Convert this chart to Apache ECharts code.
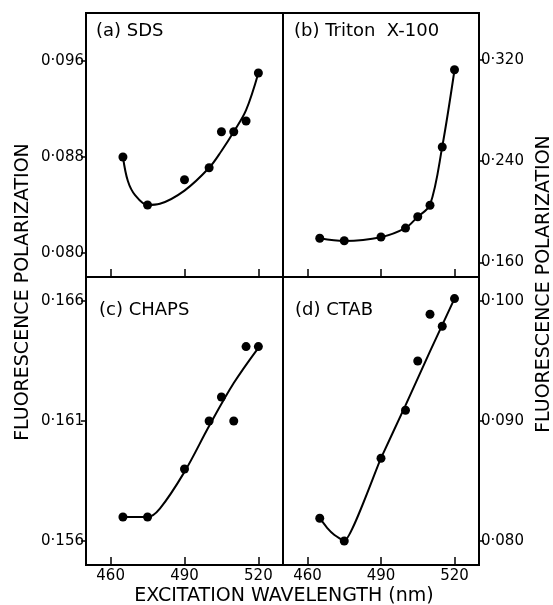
<!DOCTYPE html>
<html>
<head>
<meta charset="utf-8">
<script src="https://cdn.jsdelivr.net/npm/echarts@6/dist/echarts.min.js"></script>
<style>
  html, body { margin: 0; padding: 0; background: #fff; }
  #chart { width: 553px; height: 605px; }
</style>
</head>
<body>
<div id="chart"></div>
<script>
// measured points, excitation wavelength (nm)
const wavelengths = [465, 475, 490, 500, 505, 510, 515, 520]
const sdsPoints = [0.0880, 0.0840, 0.0861, 0.0871, 0.0901, 0.0901, 0.0910, 0.0950]
const tritonPoints = [0.179, 0.177, 0.180, 0.187, 0.196, 0.205, 0.251, 0.312]
const chapsPoints = [0.1570, 0.1570, 0.1590, 0.1610, 0.1620, 0.1610, 0.1641, 0.1641]
const ctabPoints = [0.0819, 0.0800, 0.0869, 0.0909, 0.0950, 0.0989, 0.0979, 0.1002]

// hand drawn fitted curves
const sdsCurveX = [465, 467, 470, 475, 480, 490, 500, 505, 510, 515, 520]
const sdsCurveY = [0.0880, 0.0860, 0.0848, 0.0840, 0.0841, 0.0852, 0.0871, 0.0885, 0.0901, 0.0919, 0.0950]
const tritonCurveX = [465, 475, 490, 500, 505, 510, 515, 520]
const tritonCurveY = [0.1790, 0.1769, 0.1798, 0.1871, 0.1960, 0.2053, 0.2513, 0.3118]
const chapsCurveX = [465, 475, 480, 490, 500, 510, 520]
const chapsCurveY = [0.1570, 0.1570, 0.15735, 0.15888, 0.16079, 0.16258, 0.16405]
const ctabCurveX = [465, 468, 471, 475, 490, 500, 510, 520]
const ctabCurveY = [0.0819, 0.0811, 0.0805, 0.0800, 0.0869, 0.0913, 0.0958, 0.1002]

// axis ticks
const xTicks = [460, 490, 520]
const sdsTicks = [0.080, 0.088, 0.096]
const tritonTicks = [0.160, 0.240, 0.320]
const chapsTicks = [0.156, 0.161, 0.166]
const ctabTicks = [0.080, 0.090, 0.100]

const FONT = 'DejaVu Sans'
const fmt = v => v.toFixed(3).replace('.', '·')
const pairs = (xs, ys) => xs.map((x, i) => [x, ys[i]])

function xAxis (idx, showLabel) {
  return {
    type: 'value',
    gridIndex: idx,
    min: 450,
    max: 530,
    axisLine: { show: false },
    splitLine: { show: false },
    axisTick: { inside: true, length: 8, customValues: xTicks, lineStyle: { color: '#000', width: 1.5 } },
    axisLabel: {
      show: showLabel,
      customValues: xTicks,
      margin: 4,
      color: '#000',
      fontFamily: FONT,
      fontSize: 15
    }
  }
}

function yAxis (idx, pos, min, max, ticks) {
  return {
    type: 'value',
    gridIndex: idx,
    position: pos,
    min: min,
    max: max,
    axisLine: { show: false },
    splitLine: { show: false },
    axisTick: { length: 5, customValues: ticks, lineStyle: { color: '#000', width: 1.5 } },
    axisLabel: {
      customValues: ticks,
      formatter: fmt,
      margin: 2,
      color: '#000',
      fontFamily: FONT,
      fontSize: 15
    }
  }
}

function panel (idx, pts, cx, cy, smooth) {
  return [
    {
      type: 'line',
      xAxisIndex: idx,
      yAxisIndex: idx,
      data: pairs(cx, cy),
      smooth: smooth,
      showSymbol: false,
      silent: true,
      lineStyle: { color: '#000', width: 2 }
    },
    {
      type: 'scatter',
      xAxisIndex: idx,
      yAxisIndex: idx,
      data: pairs(wavelengths, pts),
      symbol: 'circle',
      symbolSize: 9,
      itemStyle: { color: '#000', opacity: 1 },
      z: 3
    }
  ]
}

const gridBase = { show: true, borderColor: '#000', borderWidth: 2, backgroundColor: 'transparent' }
const txt = (text, x, y, size) => ({
  type: 'text', x: x, y: y,
  style: { text: text, font: size + 'px ' + FONT, fill: '#000', textVerticalAlign: 'middle' }
})
const centred = (text, x, y, rot) => ({
  type: 'text', x: x, y: y, rotation: rot,
  style: { text: text, font: '19px ' + FONT, fill: '#000', textAlign: 'center', textVerticalAlign: 'middle' }
})

const chart = echarts.init(document.getElementById('chart'), null, { renderer: 'canvas' })
chart.setOption({
  animation: false,
  grid: [
    Object.assign({ left: 86, top: 13, width: 197, height: 264 }, gridBase),
    Object.assign({ left: 283, top: 13, width: 196, height: 264 }, gridBase),
    Object.assign({ left: 86, top: 277, width: 197, height: 288 }, gridBase),
    Object.assign({ left: 283, top: 277, width: 196, height: 288 }, gridBase)
  ],
  xAxis: [xAxis(0, false), xAxis(1, false), xAxis(2, true), xAxis(3, true)],
  yAxis: [
    yAxis(0, 'left', 0.078, 0.100, sdsTicks),
    yAxis(1, 'right', 0.1484, 0.3568, tritonTicks),
    yAxis(2, 'left', 0.155, 0.167, chapsTicks),
    yAxis(3, 'right', 0.078, 0.102, ctabTicks)
  ],
  series: [].concat(
    panel(0, sdsPoints, sdsCurveX, sdsCurveY, 0.35),
    panel(1, tritonPoints, tritonCurveX, tritonCurveY, 0.35),
    panel(2, chapsPoints, chapsCurveX, chapsCurveY, 0.35),
    panel(3, ctabPoints, ctabCurveX, ctabCurveY, 0.15)
  ),
  graphic: [
    txt('(a) SDS', 96, 31, 18),
    txt('(b) Triton  X-100', 294, 31, 18),
    txt('(c) CHAPS', 99, 310, 18),
    txt('(d) CTAB', 295, 310, 18),
    centred('FLUORESCENCE POLARIZATION', 23, 292, Math.PI / 2),
    centred('FLUORESCENCE POLARIZATION', 544, 284, Math.PI / 2),
    centred('EXCITATION WAVELENGTH (nm)', 284, 596, 0)
  ]
})
</script>
</body>
</html>
